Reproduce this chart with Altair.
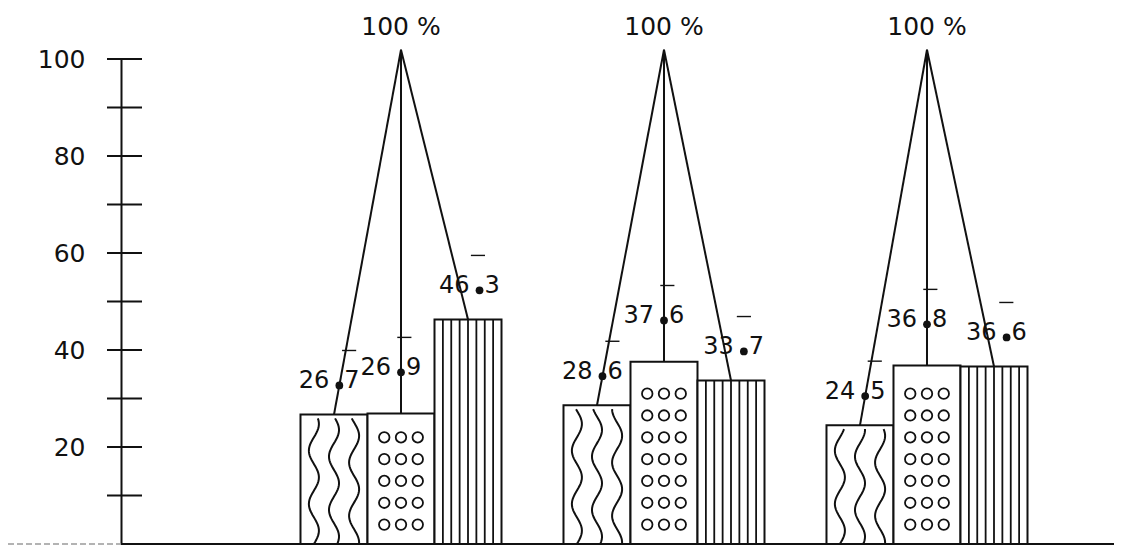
import math
import altair as alt
import pandas as pd

# ---------------- data ----------------
groups = ["1", "2", "3"]
series = ["wave", "circle", "stripe"]
values_wave = [26.7, 28.6, 24.5]
values_circle = [26.9, 37.6, 36.8]
values_stripe = [46.3, 33.7, 36.6]
y_ticks = [10, 20, 30, 40, 50, 60, 70, 80, 90, 100]
y_labels = [20, 40, 60, 80, 100]
top_label = "100 %"

# ---------------- style / layout constants ----------------
W, H = 990, 485
APEX = 101.9          # where the fan lines meet (y units)
TOP_TEXT_Y = 106.6    # "100 %" label (y units)
LABEL_GAP = {"wave": 6.0, "circle": 8.5, "stripe": 6.0}   # dot above bar top (y units)
LABEL_SHIFT = {"wave": 0.0, "circle": 0.0, "stripe": 0.28}  # sideways shift (bar widths)
DASH_GAP = 7.2        # small dash above the dot (y units)
INK = "#111111"
FONT = "DejaVu Sans"

vals = {"wave": values_wave, "circle": values_circle, "stripe": values_stripe}

bars, fan, labels, dashes, waves, circles, stripes = [], [], [], [], [], [], []
for gi, g in enumerate(groups):
    for si, s in enumerate(series):
        v = vals[s][gi]
        ctr = si + 0.5
        key = f"{g}-{s}"
        bars.append({"group": g, "series": s, "y": v})
        fan.append({"group": g, "bar": key, "ord": 0, "xo": ctr, "y": v})
        fan.append({"group": g, "bar": key, "ord": 1, "xo": 1.5, "y": APEX})
        gap = LABEL_GAP[s]
        f = gap / (APEX - v)
        ip, dp = f"{v:.1f}".split(".")
        labels.append({"group": g, "xo": ctr + (1.5 - ctr) * f + LABEL_SHIFT[s],
                       "y": v + gap, "ip": ip, "dp": dp})
        f2 = (gap + DASH_GAP) / (APEX - v)
        dashes.append({"group": g, "xo": ctr + (1.5 - ctr) * f2 + 1.2 * LABEL_SHIFT[s] + 0.05,
                       "y": v + gap + DASH_GAP})
        if s == "wave":
            n = 60
            for k, frac in enumerate([0.2, 0.5, 0.8]):
                for j in range(n + 1):
                    yy = j * (v - 0.8) / n
                    waves.append({"group": g, "w": f"{g}-{k}", "ord": j,
                                  "xo": si + frac + 0.075 * math.sin(2 * math.pi * yy / 11 + k * 0.7),
                                  "y": yy})
        if s == "circle":
            yy = 4.0
            while yy <= v - 3.5:
                for frac in [0.25, 0.5, 0.75]:
                    circles.append({"group": g, "xo": si + frac, "y": yy})
                yy += 4.5
        if s == "stripe":
            for j in range(7):
                stripes.append({"group": g, "xo": si + (j + 1) / 8, "y0": 0, "y": v})

tops = [{"group": g, "xo": 1.5, "y": TOP_TEXT_Y, "t": top_label} for g in groups]

# ---------------- shared encodings ----------------
xscale = alt.Scale(domain=groups, paddingInner=0.2357, paddingOuter=0.5, align=0.6825)
X = alt.X("group:N", scale=xscale, axis=None)
yscale = alt.Scale(domain=[0, 100], nice=False, zero=True)
yaxis = alt.Axis(values=y_labels, title=None, ticks=False, grid=False,
                 domainColor=INK, domainWidth=2, labelFont=FONT, labelFontSize=25,
                 labelColor=INK, labelPadding=36)


def Y(field="y:Q"):
    return alt.Y(field, scale=yscale, axis=yaxis)


def XO():
    return alt.XOffset("xo:Q", scale=alt.Scale(domain=[0, 3], nice=False, zero=False))


bar_layer = alt.Chart(pd.DataFrame(bars)).mark_bar(
    fill="white", stroke=INK, strokeWidth=2, opacity=1
).encode(
    x=X,
    xOffset=alt.XOffset("series:N", scale=alt.Scale(domain=series, paddingInner=0, paddingOuter=0)),
    y=Y(),
)

stripe_layer = alt.Chart(pd.DataFrame(stripes)).mark_rule(color=INK, strokeWidth=1.8).encode(
    x=X, xOffset=XO(), y=Y("y0:Q"), y2="y:Q"
)

wave_layer = alt.Chart(pd.DataFrame(waves)).mark_line(color=INK, strokeWidth=2).encode(
    x=X, xOffset=XO(), y=Y(), detail="w:N", order="ord:Q"
)

circle_layer = alt.Chart(pd.DataFrame(circles)).mark_point(
    shape="circle", filled=False, color=INK, size=110, strokeWidth=1.8, opacity=1
).encode(x=X, xOffset=XO(), y=Y())

fan_layer = alt.Chart(pd.DataFrame(fan)).mark_line(color=INK, strokeWidth=2).encode(
    x=X, xOffset=XO(), y=Y(), detail="bar:N", order="ord:Q"
)

dot_layer = alt.Chart(pd.DataFrame(labels)).mark_point(
    shape="circle", filled=True, color=INK, size=60, opacity=1
).encode(x=X, xOffset=XO(), y=Y())

ip_layer = alt.Chart(pd.DataFrame(labels)).mark_text(
    align="right", baseline="alphabetic", dx=-10, dy=3, font=FONT, fontSize=24, color=INK
).encode(x=X, xOffset=XO(), y=Y(), text="ip:N")

dp_layer = alt.Chart(pd.DataFrame(labels)).mark_text(
    align="left", baseline="alphabetic", dx=5, dy=3, font=FONT, fontSize=24, color=INK
).encode(x=X, xOffset=XO(), y=Y(), text="dp:N")

dash_layer = alt.Chart(pd.DataFrame(dashes)).mark_point(
    shape="stroke", color=INK, size=200, strokeWidth=1.4, opacity=1
).encode(x=X, xOffset=XO(), y=Y())

top_layer = alt.Chart(pd.DataFrame(tops)).mark_text(
    align="center", baseline="middle", font=FONT, fontSize=25, color=INK
).encode(x=X, xOffset=XO(), y=Y(), text="t:N")

tick_layer = alt.Chart(pd.DataFrame({"y": y_ticks})).mark_rule(color=INK, strokeWidth=2).encode(
    y=Y(), x=alt.value(-14), x2=alt.value(21)
)

base_layer = alt.Chart(pd.DataFrame({"y": [0]})).mark_rule(color=INK, strokeWidth=2).encode(
    y=Y(), x=alt.value(0), x2=alt.value(W + 3)
)

base_left = alt.Chart(pd.DataFrame({"y": [0]})).mark_rule(
    color="#9a9a9a", strokeWidth=1.5, strokeDash=[6, 3]
).encode(y=Y(), x=alt.value(-113), x2=alt.value(0))

chart = alt.layer(
    bar_layer, stripe_layer, wave_layer, circle_layer, fan_layer,
    dash_layer, dot_layer, ip_layer, dp_layer, top_layer,
    tick_layer, base_left, base_layer,
).resolve_scale(
    xOffset="independent"
).properties(
    width=W, height=H,
    autosize=alt.AutoSizeParams(type="none"),
    padding={"left": 113, "top": 51, "right": 3, "bottom": 2},
).configure_view(stroke=None)

chart.save("out.html", embed_options={"renderer": "svg", "actions": False})
